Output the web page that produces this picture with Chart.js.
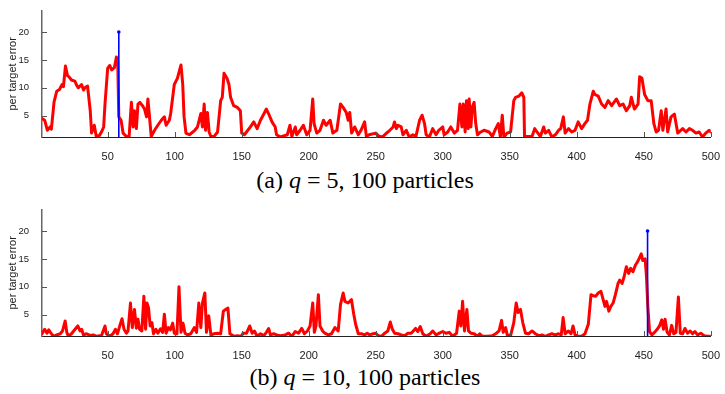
<!DOCTYPE html>
<html>
<head>
<meta charset="utf-8">
<script src="https://cdn.jsdelivr.net/npm/chart.js@4"></script>
<style>
body { margin: 0; background: #fff; width: 725px; height: 394px; position: relative; overflow: hidden; }
.panel { position: absolute; left: 0; }
.caption { position: absolute; left: 0; width: 730px; text-align: center; font-family: "Liberation Serif", serif; font-size: 24px; line-height: 24px; color: #000; }
</style>
</head>
<body>
<canvas id="chartA" class="panel" width="725" height="160" style="top:0"></canvas>
<div class="caption" style="top:168px">(a) <i>q</i> = 5, 100 particles</div>
<canvas id="chartB" class="panel" width="725" height="160" style="top:199px"></canvas>
<div class="caption" style="top:365px">(b) <i>q</i> = 10, 100 particles</div>
<script>
const xTicks = [50, 100, 150, 200, 250, 300, 350, 400, 450, 500];
const yTicks = [5, 10, 15, 20];
const yTitle = 'per target error';

// [frame, per target error] for q = 5
const errorA = [
  [1,4.5],[3,4.2],[5,2.4],[7,3.0],[8,2.6],[10,7.5],[12,9.4],[14,9.7],[16,10.6],[17,10.2],
  [18.5,13.9],[20,12.2],[21,12],[23,11.4],[25.5,11.2],[27,10.4],[28,10],[30.5,10.6],[32,9.6],[33,10],
  [35,10.3],[37,5.9],[38,1.9],[40,3.3],[41.5,1.3],[44,1.5],[46,2.4],[47,3.0],[48,7.1],[50,13.5],
  [51.5,14],[53,13.2],[55,13.6],[56.5,15.5],[57.5,14.8],[58.3,4.8],[60,4.2],[61.5,1.9],[64,1.3],[66,1.3],
  [67.7,7.4],[69,3.0],[70,5.9],[71.4,2.7],[72.6,7.1],[74,7.4],[76,6.8],[77.5,6.2],[79,4.8],[80,8.0],
  [81,5.4],[82.5,1.3],[85,2.4],[87.4,3.3],[90,4.2],[92.3,4.8],[93.6,3.3],[96,4.2],[97,5.4],[99.7,10.6],
  [102,11.7],[104.7,14.1],[106,10.6],[107,4.8],[108.4,1.9],[111,1.6],[115,2.4],[117,3.0],[119.5,5.4],[120.7,3.0],
  [122,7.1],[123,2.4],[124.4,5.6],[125.7,2.1],[127,1.3],[129.4,1.3],[132,2.1],[134.3,7.7],[135.5,8.3],[136.8,12.6],
  [139,11.7],[140.5,10.6],[141.7,8.3],[144,6.8],[146.7,6.5],[149,5.9],[150,1.9],[152,1.6],[156.5,3.0],[159,3.9],
  [161.5,2.7],[164,4.2],[166,5.1],[168.4,6.2],[170,5.4],[172.6,3.9],[175,3.0],[176,1.6],[179,1.2],[184,1.6],
  [186,3.3],[187.4,1.3],[190,3.0],[191,1.6],[193.6,2.4],[196,3.3],[198.5,1.6],[201,2.4],[203,8.0],[204,3.6],
  [206,1.9],[208.4,2.4],[211,4.2],[213,3.3],[216,4.2],[218,1.9],[221,2.4],[223.7,7.1],[225.7,6.5],[228,5.6],
  [229.4,4.2],[230.6,5.6],[232,1.9],[234.3,3.0],[237,1.6],[239,2.4],[241.7,3.9],[243,1.3],[245,1.6],[250,1.9],
  [252,1.4],[255,1.2],[258,1.9],[260.5,2.4],[263,3.0],[264,3.9],[265.4,2.7],[266.6,3.3],[269,3.0],[270.3,1.6],
  [272.8,2.4],[275,1.2],[277.7,1.6],[280,1.3],[282.7,4.2],[284.6,5.1],[286.4,3.6],[287.6,1.6],[290,1.2],[292.5,2.7],
  [295,1.6],[297,2.4],[300,3.0],[301,1.6],[303.7,2.1],[306,3.0],[308.6,1.9],[311,2.4],[312.8,7.1],[314.3,3.0],
  [315.3,7.1],[316.7,2.1],[317.7,7.7],[319,2.7],[319.7,8.0],[321,3.0],[322,6.5],[323.4,7.4],[324.6,3.6],[325.9,1.6],
  [328.3,2.1],[330.8,2.4],[334.5,2.1],[337,1.3],[339.5,2.7],[341.4,3.6],[343,1.2],[344.4,5.1],[345.6,1.2],[348,1.9],
  [350.6,2.1],[353,7.7],[354.3,8.3],[356.7,8.5],[359,9.1],[360.5,8.3],[361,1.3],[363,1.3],[366.6,1.3],[368.6,2.7],
  [370.3,2.1],[372.8,1.3],[375.3,3.0],[376.5,1.9],[379,2.4],[381.4,1.2],[384,1.6],[386.4,2.4],[388,2.7],[390,4.8],
  [391.3,1.9],[393.8,2.7],[396.2,2.1],[398.7,2.4],[401,3.9],[403.6,2.7],[406,3.6],[408,4.2],[409.8,7.1],[412.3,9.4],
  [413.5,8.8],[416,8.5],[418.5,7.1],[421,6.5],[423.4,7.7],[426,6.8],[429.6,8.0],[432,6.8],[434.5,7.1],[437,5.9],
  [439.5,6.8],[440.7,8.3],[443,6.2],[445.7,7.1],[446.9,12.0],[448.6,11.7],[450.6,8.8],[453,7.7],[455.5,7.7],[457.5,3.6],
  [459.2,2.1],[461,2.4],[463,5.9],[464.2,2.4],[466.6,6.2],[467.8,2.1],[470.3,4.8],[472.8,5.3],[475.3,1.9],[479,2.7],
  [481.5,2.1],[484,2.7],[486.4,2.4],[488.9,1.9],[491.3,2.1],[493.8,1.2],[496.2,1.9],[498.7,2.4],[500,2.1]
];

// [frame, per target error] for q = 10
const errorB = [
  [1,1.6],[3,2.4],[4.7,1.7],[6,2.3],[8,1.6],[9.6,1.15],[12,1.4],[14.6,1.6],[16.3,2.1],[18.3,3.9],
  [19.5,1.85],[20.7,1.15],[23,1.6],[25.7,2.4],[27.7,3.0],[29.4,2.1],[30.6,2.4],[31.9,1.4],[34.3,1.6],[36.8,1.3],
  [39.3,1.4],[41.7,1.15],[45.4,1.3],[48,3.0],[49,1.6],[51.6,1.15],[54,1.6],[55.8,2.4],[57.3,1.6],[59,3.0],
  [60.7,4.3],[62.2,2.4],[64,1.7],[65.2,2.1],[67,7.1],[68.4,2.7],[70,5.95],[71.4,2.6],[72.6,4.2],[73.8,2.4],
  [75.5,2.1],[77,8.3],[78.3,2.4],[79.3,7.1],[80.5,6.2],[81.7,3.0],[83,3.6],[84.2,1.6],[86,2.4],[87.4,1.7],
  [89.4,2.5],[91,1.85],[92.3,5.1],[93.6,1.7],[95.3,2.7],[96.8,2.3],[98.5,3.5],[99.7,1.7],[101.7,1.6],[103.2,10.0],
  [104.7,1.85],[106.2,3.5],[107.7,1.7],[109.6,1.4],[112,1.6],[114.6,2.7],[116.3,1.85],[118,7.1],[119.5,2.7],[120.7,7.1],
  [122.5,8.9],[123.7,1.85],[125.4,4.8],[127,1.4],[129.4,1.6],[131.9,1.7],[134.3,1.6],[136.3,5.65],[138,5.95],[139.7,6.2],
  [141.2,1.6],[144.2,1.15],[146.7,1.26],[149.6,1.15],[151,1.7],[153.6,1.7],[156,3.0],[157.8,1.7],[159.5,2.1],[161.5,1.15],
  [164,1.6],[166.4,1.26],[168.4,1.85],[170.1,2.55],[171.4,1.4],[173.8,1.6],[176.3,1.4],[178.8,1.26],[182.5,1.4],[185,1.7],
  [187.4,1.15],[189.9,2.0],[192.4,1.7],[194.8,2.55],[196.8,1.6],[199,2.1],[201,3.0],[203,7.1],[204.2,1.85],[205.4,3.0],
  [207.2,8.6],[208.4,3.0],[210.4,2.1],[212,1.7],[214.6,1.4],[217,1.6],[219.5,2.7],[222,2.1],[223.7,6.8],[225.7,8.9],
  [227,7.4],[229.4,7.1],[231.9,7.7],[233.6,5.1],[235,3.3],[237,1.6],[239.3,1.6],[241.7,1.4],[243.7,1.7],[245.4,1.4],
  [248,1.6],[250,1.7],[251.8,1.26],[254.3,1.15],[256.7,1.7],[259,2.1],[260.9,3.7],[262.4,2.4],[264.1,1.7],[266.6,1.6],
  [269.1,1.4],[271.6,1.26],[274,1.7],[276.5,1.7],[279.7,2.55],[281.4,2.0],[283.2,2.9],[285.1,1.6],[287.6,1.15],[290.6,1.6],
  [292.5,2.1],[295,1.4],[297.5,1.7],[300,2.0],[302.4,1.7],[304.9,1.85],[307.4,1.15],[310.3,1.7],[312.3,5.65],[313.5,3.0],
  [314.8,7.4],[316.2,2.1],[318,5.95],[319.2,2.1],[321,1.7],[323.4,1.6],[325.9,1.15],[327.6,1.6],[329.6,1.15],[333.3,1.15],
  [337,1.26],[340,1.7],[342,2.1],[343.9,4.0],[345.1,1.85],[346.9,2.7],[348.1,1.4],[350.6,1.26],[353,3.6],[354.8,7.1],
  [356.2,5.4],[358,5.95],[359.7,3.6],[361.7,1.7],[364.1,1.6],[366.6,2.1],[369.1,1.6],[371.6,1.26],[374,1.4],[376.5,1.15],
  [379,1.4],[381.4,1.6],[383.9,1.4],[386.4,1.6],[388.4,1.4],[389.8,4.5],[391.3,1.6],[393.8,2.1],[395.7,1.6],[397.2,3.0],
  [398.7,1.4],[401.2,1.15],[403.7,1.15],[406.1,1.6],[408.6,3.3],[410.6,8.6],[412.3,8.4],[414,8.3],[416,8.9],[418,9.2],
  [419.7,7.7],[421,6.5],[422.2,7.4],[423.9,5.65],[425.4,6.5],[427.1,7.1],[428.8,8.6],[430.8,10.6],[432,11.2],[433.8,10.6],
  [435.3,11.8],[437,13.6],[438.7,12.4],[440.2,13.3],[441.9,12.7],[443.7,13.85],[445.1,14.4],[446.4,15.0],[448.1,15.9],[449.3,14.7],
  [451,15.0],[452,11.8],[453,6.5],[454.3,1.96],[456,1.4],[458,1.85],[460,2.4],[461.7,3.0],[463.4,4.1],[464.7,2.4],
  [465.9,4.2],[467.4,1.85],[469.1,1.4],[470.8,3.1],[472.3,1.6],[474,1.85],[475.8,8.2],[477.2,1.7],[479,1.6],[480.7,2.55],
  [482.7,1.7],[484.6,2.1],[486.4,1.6],[488.1,2.0],[490.1,1.4],[492.5,1.7],[495,1.26],[497.5,1.15],[500,1.15]
];

// blue marker: frame where the track is flagged, drawn up to 20
const markerA = 58.3;
const markerB = 452.8;
const markerTop = 20;

const Y_MIN = 1.2, Y_MAX = 23.8;
const xFont = { family: '"Liberation Sans", Arial, sans-serif', size: 11 };
const yFont = { family: '"Liberation Sans", Arial, sans-serif', size: 9.5 };

// matlab style: tick marks on the inside of the axes
const innerTicks = {
    id: 'innerTicks',
    afterDatasetsDraw(chart) {
        const { ctx, chartArea, scales } = chart;
        ctx.save();
        ctx.lineWidth = 1;
        ctx.strokeStyle = '#555';
        scales.y.ticks.forEach(t => {
            const py = Math.round(scales.y.getPixelForValue(t.value)) + 0.5;
            ctx.beginPath();
            ctx.moveTo(chartArea.left, py);
            ctx.lineTo(chartArea.left + 5, py);
            ctx.stroke();
        });
        scales.x.ticks.forEach(t => {
            const px = Math.round(scales.x.getPixelForValue(t.value)) + 0.5;
            ctx.beginPath();
            ctx.moveTo(px, chartArea.bottom);
            ctx.lineTo(px, chartArea.bottom - 5);
            ctx.stroke();
        });
        ctx.restore();
    }
};

function makeChart(id, series, markerX) {
    return new Chart(document.getElementById(id), {
        type: 'line',
        data: {
            datasets: [{
                data: [{ x: markerX, y: Y_MIN }, { x: markerX, y: markerTop }],
                borderColor: '#0000ff',
                borderWidth: 1.6,
                pointRadius: [0, 1.8],
                pointBackgroundColor: '#0000ff',
                pointBorderWidth: 0
            }, {
                data: series.map(([x, y]) => ({ x, y })),
                borderColor: '#ff0000',
                borderWidth: 3,
                borderJoinStyle: 'round',
                borderCapStyle: 'round',
                pointRadius: 0,
                tension: 0
            }]
        },
        options: {
            responsive: false,
            animation: false,
            layout: { padding: { top: 7, right: 10, left: 0, bottom: 0 } },
            plugins: { legend: { display: false }, tooltip: { enabled: false } },
            scales: {
                x: {
                    type: 'linear', min: 1, max: 500,
                    grid: { display: false },
                    border: { display: true, color: '#222', width: 1 },
                    ticks: { font: xFont, color: '#222', padding: 5, maxRotation: 0, autoSkip: false },
                    afterBuildTicks: s => { s.ticks = xTicks.map(v => ({ value: v })); },
                    afterFit: s => { s.height = 23; }
                },
                y: {
                    min: Y_MIN, max: Y_MAX,
                    grid: { display: false },
                    border: { display: true, color: '#666', width: 1.5 },
                    ticks: { font: yFont, color: '#222', padding: 5 },
                    afterBuildTicks: s => { s.ticks = yTicks.map(v => ({ value: v })); },
                    afterFit: s => { s.width = 42; },
                    title: { display: true, text: yTitle, font: xFont, color: '#222', padding: { top: 6, bottom: 0 } }
                }
            }
        },
        plugins: [innerTicks]
    });
}

makeChart('chartA', errorA, markerA);
makeChart('chartB', errorB, markerB);
</script>
</body>
</html>
